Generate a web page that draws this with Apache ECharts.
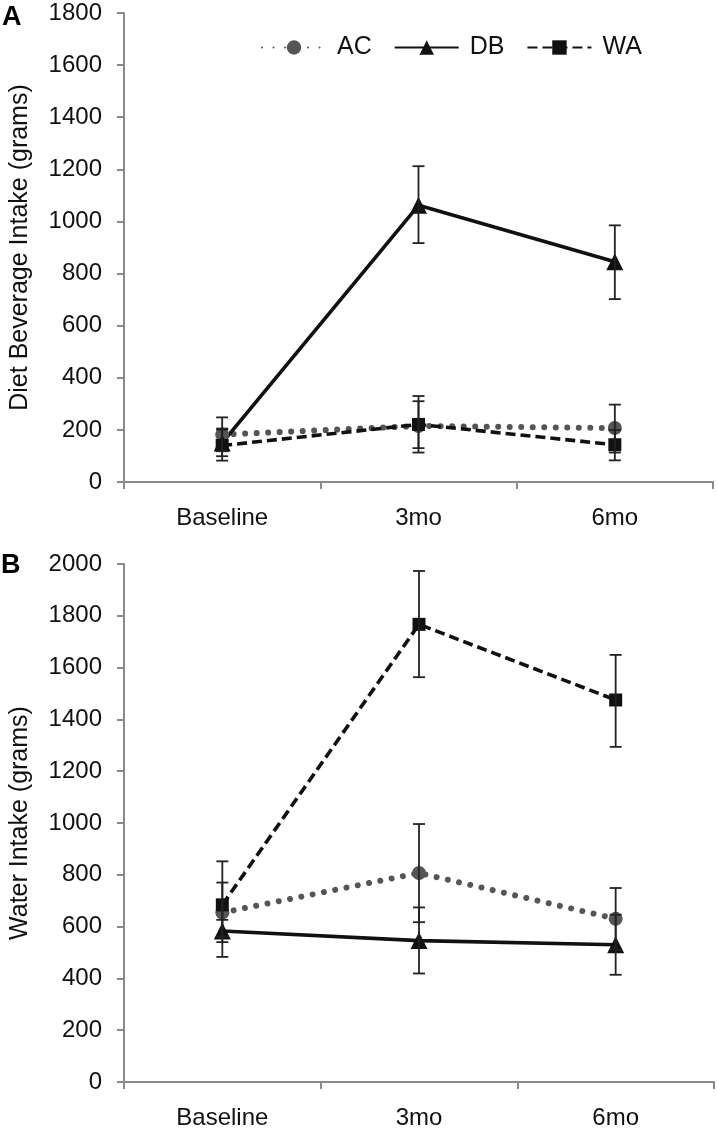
<!DOCTYPE html>
<html>
<head>
<meta charset="utf-8">
<script src="https://cdn.jsdelivr.net/npm/echarts@6/dist/echarts.min.js"></script>
<style>
html,body{margin:0;padding:0;background:#fff;}
#chart{width:717px;height:1130px;}
</style>
</head>
<body>
<div id="chart"></div>
<script>
// ---- data ----
const categories = ['Baseline', '3mo', '6mo'];
const yTicksA = [0, 200, 400, 600, 800, 1000, 1200, 1400, 1600, 1800];
const yTicksB = [0, 200, 400, 600, 800, 1000, 1200, 1400, 1600, 1800, 2000];

// Panel A: Diet beverage intake (grams)
const acA = [182, 215, 207];
const acA_lo = [118, 130, 113];
const acA_hi = [248, 310, 297];
const dbA = [150, 1062, 845];
const dbA_lo = [99, 917, 702];
const dbA_hi = [201, 1212, 985];
const waA = [140, 221, 143];
const waA_lo = [82, 113, 83];
const waA_hi = [205, 330, 200];

// Panel B: Water intake (grams)
const acB = [654, 807, 630];
const acB_lo = [483, 617, 511];
const acB_hi = [852, 996, 749];
const dbB = [583, 546, 530];
const dbB_lo = [540, 419, 414];
const dbB_hi = [626, 674, 646];
const waB = [684, 1767, 1475];
const waB_lo = [562, 1563, 1294];
const waB_hi = [770, 1973, 1649];

// ---- styles ----
const FONT = '"Liberation Sans", Arial, sans-serif';
const AXIS_GRAY = '#8a8a8a';
const styleAC = { color: '#555555', lineStyle: { color: '#555555', width: 6, type: [0.01, 11.5], cap: 'round' }, symbol: 'circle', symbolSize: 14 };
const styleDB = { color: '#111111', lineStyle: { color: '#111111', width: 3.6, type: 'solid' }, symbol: 'triangle', symbolSize: 17 };
const styleWA = { color: '#111111', lineStyle: { color: '#111111', width: 3.6, type: [10, 5] }, symbol: 'rect', symbolSize: 13 };

function errRows(lo, hi) { return lo.map((v, i) => [i, v, hi[i]]); }

function errRender(params, api) {
  const x = api.value(0);
  const a = api.coord([x, api.value(1)]);
  const b = api.coord([x, api.value(2)]);
  const w = 6;
  const st = { stroke: '#222222', lineWidth: 1.8, fill: null };
  return {
    type: 'group',
    children: [
      { type: 'line', shape: { x1: a[0], y1: a[1], x2: b[0], y2: b[1] }, style: st },
      { type: 'line', shape: { x1: a[0] - w, y1: a[1], x2: a[0] + w, y2: a[1] }, style: st },
      { type: 'line', shape: { x1: b[0] - w, y1: b[1], x2: b[0] + w, y2: b[1] }, style: st }
    ]
  };
}

function lineSeries(name, data, st, idx) {
  return {
    name: name, type: 'line', data: data,
    xAxisIndex: idx, yAxisIndex: idx,
    symbol: st.symbol, symbolSize: st.symbolSize,
    itemStyle: { color: st.color },
    lineStyle: st.lineStyle,
    z: 3, animation: false
  };
}
function errSeries(name, lo, hi, idx) {
  return {
    name: name, type: 'custom', renderItem: errRender,
    data: errRows(lo, hi), xAxisIndex: idx, yAxisIndex: idx,
    encode: { x: 0, y: [1, 2] }, z: 4, silent: true, animation: false
  };
}

function xAxisCfg(idx) {
  return {
    type: 'category', data: categories, gridIndex: idx, boundaryGap: true,
    axisLine: { lineStyle: { color: AXIS_GRAY, width: 2 } },
    axisTick: { show: true, length: 7, alignWithLabel: false, lineStyle: { color: AXIS_GRAY, width: 2 } },
    axisLabel: { color: '#111', fontSize: 24, fontFamily: FONT, margin: 24 },
    splitLine: { show: false }
  };
}
function yAxisCfg(idx, ticks, name, nameSize, nameGap) {
  return {
    type: 'value', gridIndex: idx,
    min: ticks[0], max: ticks[ticks.length - 1], interval: ticks[1] - ticks[0],
    name: name, nameLocation: 'middle', nameGap: nameGap,
    nameTextStyle: { color: '#111', fontSize: nameSize, fontFamily: FONT },
    axisLine: { show: true, lineStyle: { color: AXIS_GRAY, width: 2 } },
    axisTick: { show: true, length: 7, lineStyle: { color: AXIS_GRAY, width: 2 } },
    axisLabel: { color: '#111', fontSize: 24, fontFamily: FONT, margin: 22, formatter: v => String(v) },
    splitLine: { show: false }
  };
}

const chart = echarts.init(document.getElementById('chart'), null, { renderer: 'canvas' });
chart.setOption({
  animation: false,
  backgroundColor: '#ffffff',
  textStyle: { fontFamily: FONT },
  grid: [
    { left: 113, top: 13, width: 600, height: 469 },
    { left: 114, top: 564, width: 600, height: 523 }
  ],
  legend: {
    data: ['AC', 'DB', 'WA'],
    left: 256, top: 30,
    itemWidth: 64, itemHeight: 18, itemGap: 22,
    textStyle: { color: '#111', fontSize: 25, fontFamily: FONT, padding: [0, 0, 0, 6] }
  },
  xAxis: [xAxisCfg(0), xAxisCfg(1)],
  yAxis: [
    yAxisCfg(0, yTicksA, 'Diet Beverage Intake (grams)', 25, 91),
    yAxisCfg(1, yTicksB, 'Water Intake (grams)', 25, 91)
  ],
  graphic: [
    { type: 'text', left: 2, top: 4, style: { text: 'A', fontSize: 27, fontWeight: 'bold', fill: '#000', fontFamily: FONT } },
    { type: 'text', left: 1, top: 552, style: { text: 'B', fontSize: 27, fontWeight: 'bold', fill: '#000', fontFamily: FONT } }
  ],
  series: [
    lineSeries('AC', acA, styleAC, 0),
    lineSeries('DB', dbA, styleDB, 0),
    lineSeries('WA', waA, styleWA, 0),
    errSeries('AC err A', acA_lo, acA_hi, 0),
    errSeries('DB err A', dbA_lo, dbA_hi, 0),
    errSeries('WA err A', waA_lo, waA_hi, 0),
    lineSeries('AC', acB, styleAC, 1),
    lineSeries('DB', dbB, styleDB, 1),
    lineSeries('WA', waB, styleWA, 1),
    errSeries('AC err B', acB_lo, acB_hi, 1),
    errSeries('DB err B', dbB_lo, dbB_hi, 1),
    errSeries('WA err B', waB_lo, waB_hi, 1)
  ]
});
</script>
</body>
</html>
